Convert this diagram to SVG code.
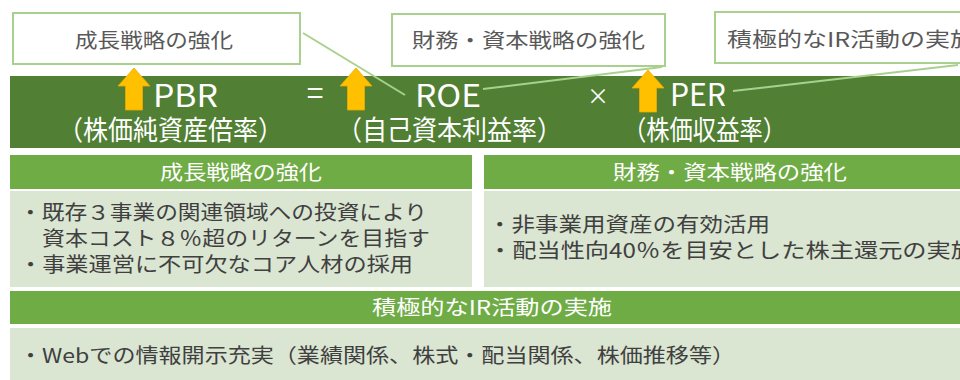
<svg xmlns="http://www.w3.org/2000/svg" width="960" height="380" viewBox="0 0 960 380">
<style>
text{font-family:"Noto Sans CJK JP","Noto Sans",sans-serif}
.call{fill:#fff;stroke:#A9D18E;stroke-width:2}
.calltx{fill:#595959;font-size:20px}
.band{fill:#518034}
.bandtx{fill:#fff;font-size:27px}
.bandlat{fill:#fff;font-size:31px}
.op{fill:#fff;font-size:30px}
.times{fill:#fff;font-size:22px}
.hdr{fill:#6FAC46}
.hdrtx{fill:#fff;font-size:20px;text-anchor:middle}
.body{fill:#DAE5D2}
.bodytx{fill:#404040;font-size:20px}
.conn{stroke:#A9D18E;stroke-width:2;fill:none}
.arrow{fill:#FFC000;stroke:#F0A800;stroke-width:0.8}
</style>
<defs>
<path id="up" d="M0,0 L16,18 L8.5,18 L8.5,42 L-8.5,42 L-8.5,18 L-16,18 Z"/>
</defs>
<rect width="960" height="380" fill="#fff"/>

<g id="band">
<rect class="band" x="10" y="76" width="950" height="72"/>
<text class="bandlat" x="153" y="107" textLength="65" lengthAdjust="spacingAndGlyphs">PBR</text>
<text class="bandtx" x="58" y="140" textLength="225" lengthAdjust="spacingAndGlyphs">（株価純資産倍率）</text>
<text class="op" x="315" y="104" text-anchor="middle">=</text>
<text class="bandlat" x="415" y="107" textLength="66" lengthAdjust="spacingAndGlyphs">ROE</text>
<text class="bandtx" x="337" y="140" textLength="225" lengthAdjust="spacingAndGlyphs">（自己資本利益率）</text>
<text class="times" x="598" y="104" text-anchor="middle">×</text>
<text class="bandlat" x="670" y="106" textLength="56" lengthAdjust="spacingAndGlyphs">PER</text>
<text class="bandtx" x="623" y="140" textLength="163" lengthAdjust="spacingAndGlyphs">（株価収益率）</text>
</g>

<g id="connectors">
<line class="conn" x1="303" y1="33" x2="405" y2="95"/>
<line class="conn" x1="483" y1="89" x2="662" y2="67"/>
<line class="conn" x1="733" y1="91" x2="958" y2="65"/>
</g>

<g id="callout-growth">
<rect class="call" x="13" y="13" width="287" height="51"/>
<text class="calltx" x="75" y="48" textLength="158" lengthAdjust="spacingAndGlyphs">成長戦略の強化</text>
</g>
<g id="callout-finance">
<rect class="call" x="392" y="14" width="273" height="52"/>
<text class="calltx" x="412" y="48" textLength="233" lengthAdjust="spacingAndGlyphs">財務・資本戦略の強化</text>
</g>
<g id="callout-ir">
<rect class="call" x="715" y="12" width="260" height="51"/>
<text class="calltx" x="727" y="47" textLength="248" lengthAdjust="spacingAndGlyphs">積極的なIR活動の実施</text>
</g>

<g id="arrows">
<use href="#up" class="arrow" x="134" y="68"/>
<use href="#up" class="arrow" x="356" y="68"/>
<use href="#up" class="arrow" x="648" y="70"/>
</g>

<g id="growth">
<rect class="hdr" x="10" y="155" width="462" height="34"/>
<text class="hdrtx" x="241" y="180" textLength="162" lengthAdjust="spacingAndGlyphs">成長戦略の強化</text>
<rect class="body" x="10" y="191" width="462" height="96"/>
<text class="bodytx" x="19" y="220" textLength="408" lengthAdjust="spacingAndGlyphs">・既存３事業の関連領域への投資により</text>
<text class="bodytx" x="42" y="246" textLength="388" lengthAdjust="spacingAndGlyphs">資本コスト８％超のリターンを目指す</text>
<text class="bodytx" x="19" y="272" textLength="394" lengthAdjust="spacingAndGlyphs">・事業運営に不可欠なコア人材の採用</text>
</g>

<g id="finance">
<rect class="hdr" x="484" y="155" width="476" height="34"/>
<text class="hdrtx" x="730" y="180" textLength="234" lengthAdjust="spacingAndGlyphs">財務・資本戦略の強化</text>
<rect class="body" x="484" y="191" width="476" height="96"/>
<text class="bodytx" x="488" y="232" textLength="282" lengthAdjust="spacingAndGlyphs">・非事業用資産の有効活用</text>
<text class="bodytx" x="488" y="258" textLength="487" lengthAdjust="spacingAndGlyphs">・配当性向40％を目安とした株主還元の実施</text>
</g>

<g id="ir">
<rect class="hdr" x="10" y="291" width="950" height="33"/>
<text class="hdrtx" x="492" y="315" textLength="240" lengthAdjust="spacingAndGlyphs">積極的なIR活動の実施</text>
<rect class="body" x="10" y="328" width="950" height="52"/>
<text class="bodytx" x="19" y="363" textLength="716" lengthAdjust="spacingAndGlyphs">・Webでの情報開示充実（業績関係、株式・配当関係、株価推移等）</text>
</g>
</svg>
